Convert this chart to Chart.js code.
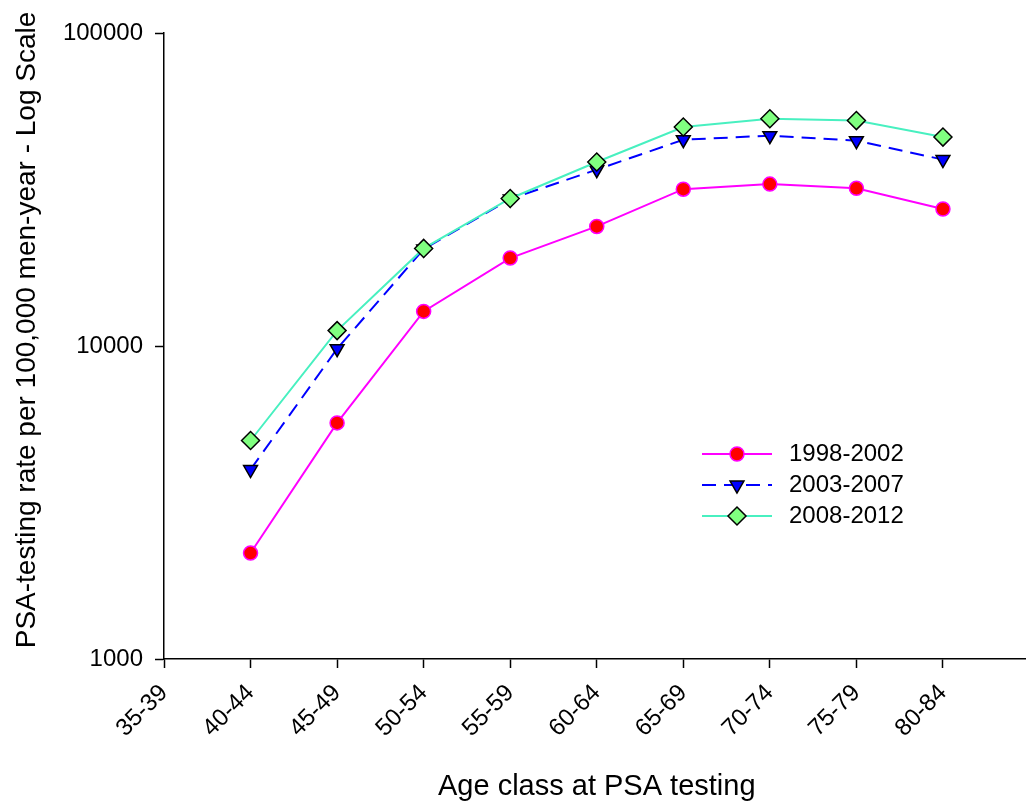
<!DOCTYPE html>
<html>
<head>
<meta charset="utf-8">
<title>PSA-testing rate by age class</title>
<script src="https://cdn.jsdelivr.net/npm/chart.js@4/dist/chart.umd.min.js"></script>
<style>
  html, body { margin: 0; padding: 0; background: #fff; overflow: hidden; }
  #wrap { width: 1040px; height: 807px; }
</style>
</head>
<body>
<div id="wrap"><canvas id="chart" width="1040" height="807"></canvas></div>
<script>
// ---- Data ----
const ageLabels = ['35-39', '40-44', '45-49', '50-54', '55-59', '60-64', '65-69', '70-74', '75-79', '80-84'];
const seriesAges = ['40-44', '45-49', '50-54', '55-59', '60-64', '65-69', '70-74', '75-79', '80-84'];
const seriesNames = ['1998-2002', '2003-2007', '2008-2012'];
const rate1998 = [2180, 5680, 12900, 19100, 24100, 31700, 32900, 31900, 27400];
const rate2003 = [4030, 9800, 20400, 29500, 36600, 45600, 47000, 45300, 39400];
const rate2008 = [4990, 11200, 20500, 29600, 38700, 50100, 53200, 52500, 46500];
const yTicks = [1000, 10000, 100000];
const yTitle = 'PSA-testing rate per 100,000 men-year - Log Scale';
const xTitle = 'Age class at PSA testing';

const FONT = "'Liberation Sans', Arial, Helvetica, sans-serif";

function toPoints(values) {
  return values.map((v, i) => ({ x: ageLabels.indexOf(seriesAges[i]), y: v }));
}

// ---- Legend drawn inside the plot area (line sample + marker + text) ----
const insideLegend = {
  id: 'insideLegend',
  afterDraw(chart, args, opts) {
    const ctx = chart.ctx;
    chart.data.datasets.forEach((ds, i) => {
      const y = opts.rows[i];
      ctx.save();
      ctx.strokeStyle = ds.borderColor;
      ctx.lineWidth = ds.borderWidth;
      ctx.setLineDash(ds.borderDash || []);
      ctx.beginPath();
      ctx.moveTo(opts.lineStart, y);
      ctx.lineTo(opts.lineEnd, y);
      ctx.stroke();
      ctx.restore();

      ctx.save();
      ctx.fillStyle = ds.pointBackgroundColor;
      ctx.strokeStyle = ds.pointBorderColor;
      ctx.lineWidth = ds.pointBorderWidth;
      Chart.helpers.drawPoint(ctx, {
        pointStyle: ds.pointStyle,
        radius: ds.pointRadius,
        rotation: ds.pointRotation || 0,
        borderWidth: ds.pointBorderWidth
      }, (opts.lineStart + opts.lineEnd) / 2, y);
      ctx.restore();

      ctx.save();
      ctx.fillStyle = '#000';
      ctx.font = opts.fontSize + 'px ' + FONT;
      ctx.textBaseline = 'middle';
      ctx.textAlign = 'left';
      ctx.fillText(ds.label, opts.textX, y);
      ctx.restore();
    });
  }
};

// ---- Y title sits a little above the axis centre in the original ----
const leftTitle = {
  id: 'leftTitle',
  afterDraw(chart, args, opts) {
    const ctx = chart.ctx;
    ctx.save();
    ctx.translate(opts.x, opts.y);
    ctx.rotate(-Math.PI / 2);
    ctx.fillStyle = '#000';
    ctx.font = opts.fontSize + 'px ' + FONT;
    ctx.textAlign = 'center';
    ctx.textBaseline = 'middle';
    ctx.fillText(yTitle, 0, 0);
    ctx.restore();
  }
};

const datasets = [
  {
    label: seriesNames[0],
    data: toPoints(rate1998),
    borderColor: '#ff00ff',
    borderWidth: 2,
    pointStyle: 'circle',
    pointRadius: 7,
    pointBackgroundColor: '#ff0000',
    pointBorderColor: '#ff00ff',
    pointBorderWidth: 1.5,
    order: 2
  },
  {
    label: seriesNames[1],
    data: toPoints(rate2003),
    borderColor: '#0000ff',
    borderWidth: 2,
    borderDash: [14, 8],
    pointStyle: 'triangle',
    pointRotation: 180,
    pointRadius: 8,
    pointBackgroundColor: '#0000ff',
    pointBorderColor: '#000000',
    pointBorderWidth: 1.5,
    order: 1
  },
  {
    label: seriesNames[2],
    data: toPoints(rate2008),
    borderColor: '#48f0c0',
    borderWidth: 2,
    pointStyle: 'rectRot',
    pointRadius: 9,
    pointBackgroundColor: '#80ff80',
    pointBorderColor: '#000000',
    pointBorderWidth: 1.5,
    order: 0
  }
];

new Chart(document.getElementById('chart'), {
  type: 'line',
  data: { datasets },
  plugins: [insideLegend, leftTitle],
  options: {
    responsive: false,
    animation: false,
    devicePixelRatio: 1,
    layout: { padding: { left: 0, top: 33, right: 6, bottom: 0 } },
    elements: { line: { tension: 0, fill: false } },
    plugins: {
      legend: { display: false },
      tooltip: { enabled: false },
      insideLegend: { rows: [454, 485, 516], lineStart: 702, lineEnd: 772, textX: 789, fontSize: 24 },
      leftTitle: { x: 27, y: 330, fontSize: 28 }
    },
    scales: {
      x: {
        type: 'linear',
        min: 0,
        max: 10,
        afterBuildTicks: s => { s.ticks = ageLabels.map((_, i) => ({ value: i })); },
        afterFit: s => { s.height = 148; s.paddingLeft = 0; s.paddingRight = 0; },
        grid: { display: true, drawOnChartArea: false, drawTicks: true, tickLength: 9, tickColor: '#000', tickWidth: 1.5 },
        border: { display: true, color: '#000', width: 1.5 },
        ticks: {
          autoSkip: false,
          maxRotation: 45,
          minRotation: 45,
          padding: 11,
          color: '#000',
          font: { family: FONT, size: 24 },
          callback: v => ageLabels[v] ?? ''
        },
        title: {
          display: true,
          text: xTitle,
          color: '#000',
          font: { family: FONT, size: 29 },
          padding: { top: 0, bottom: 3 }
        }
      },
      y: {
        type: 'logarithmic',
        min: 1000,
        max: 100000,
        afterBuildTicks: s => { s.ticks = yTicks.map(v => ({ value: v })); },
        afterFit: s => { s.width = 164; },
        grid: { display: true, drawOnChartArea: false, drawTicks: true, tickLength: 9, tickColor: '#000', tickWidth: 1.5 },
        border: { display: true, color: '#000', width: 1.5 },
        ticks: {
          padding: 12,
          color: '#000',
          font: { family: FONT, size: 24 },
          callback: v => String(v)
        },
        title: { display: false }
      }
    }
  }
});
</script>
</body>
</html>
